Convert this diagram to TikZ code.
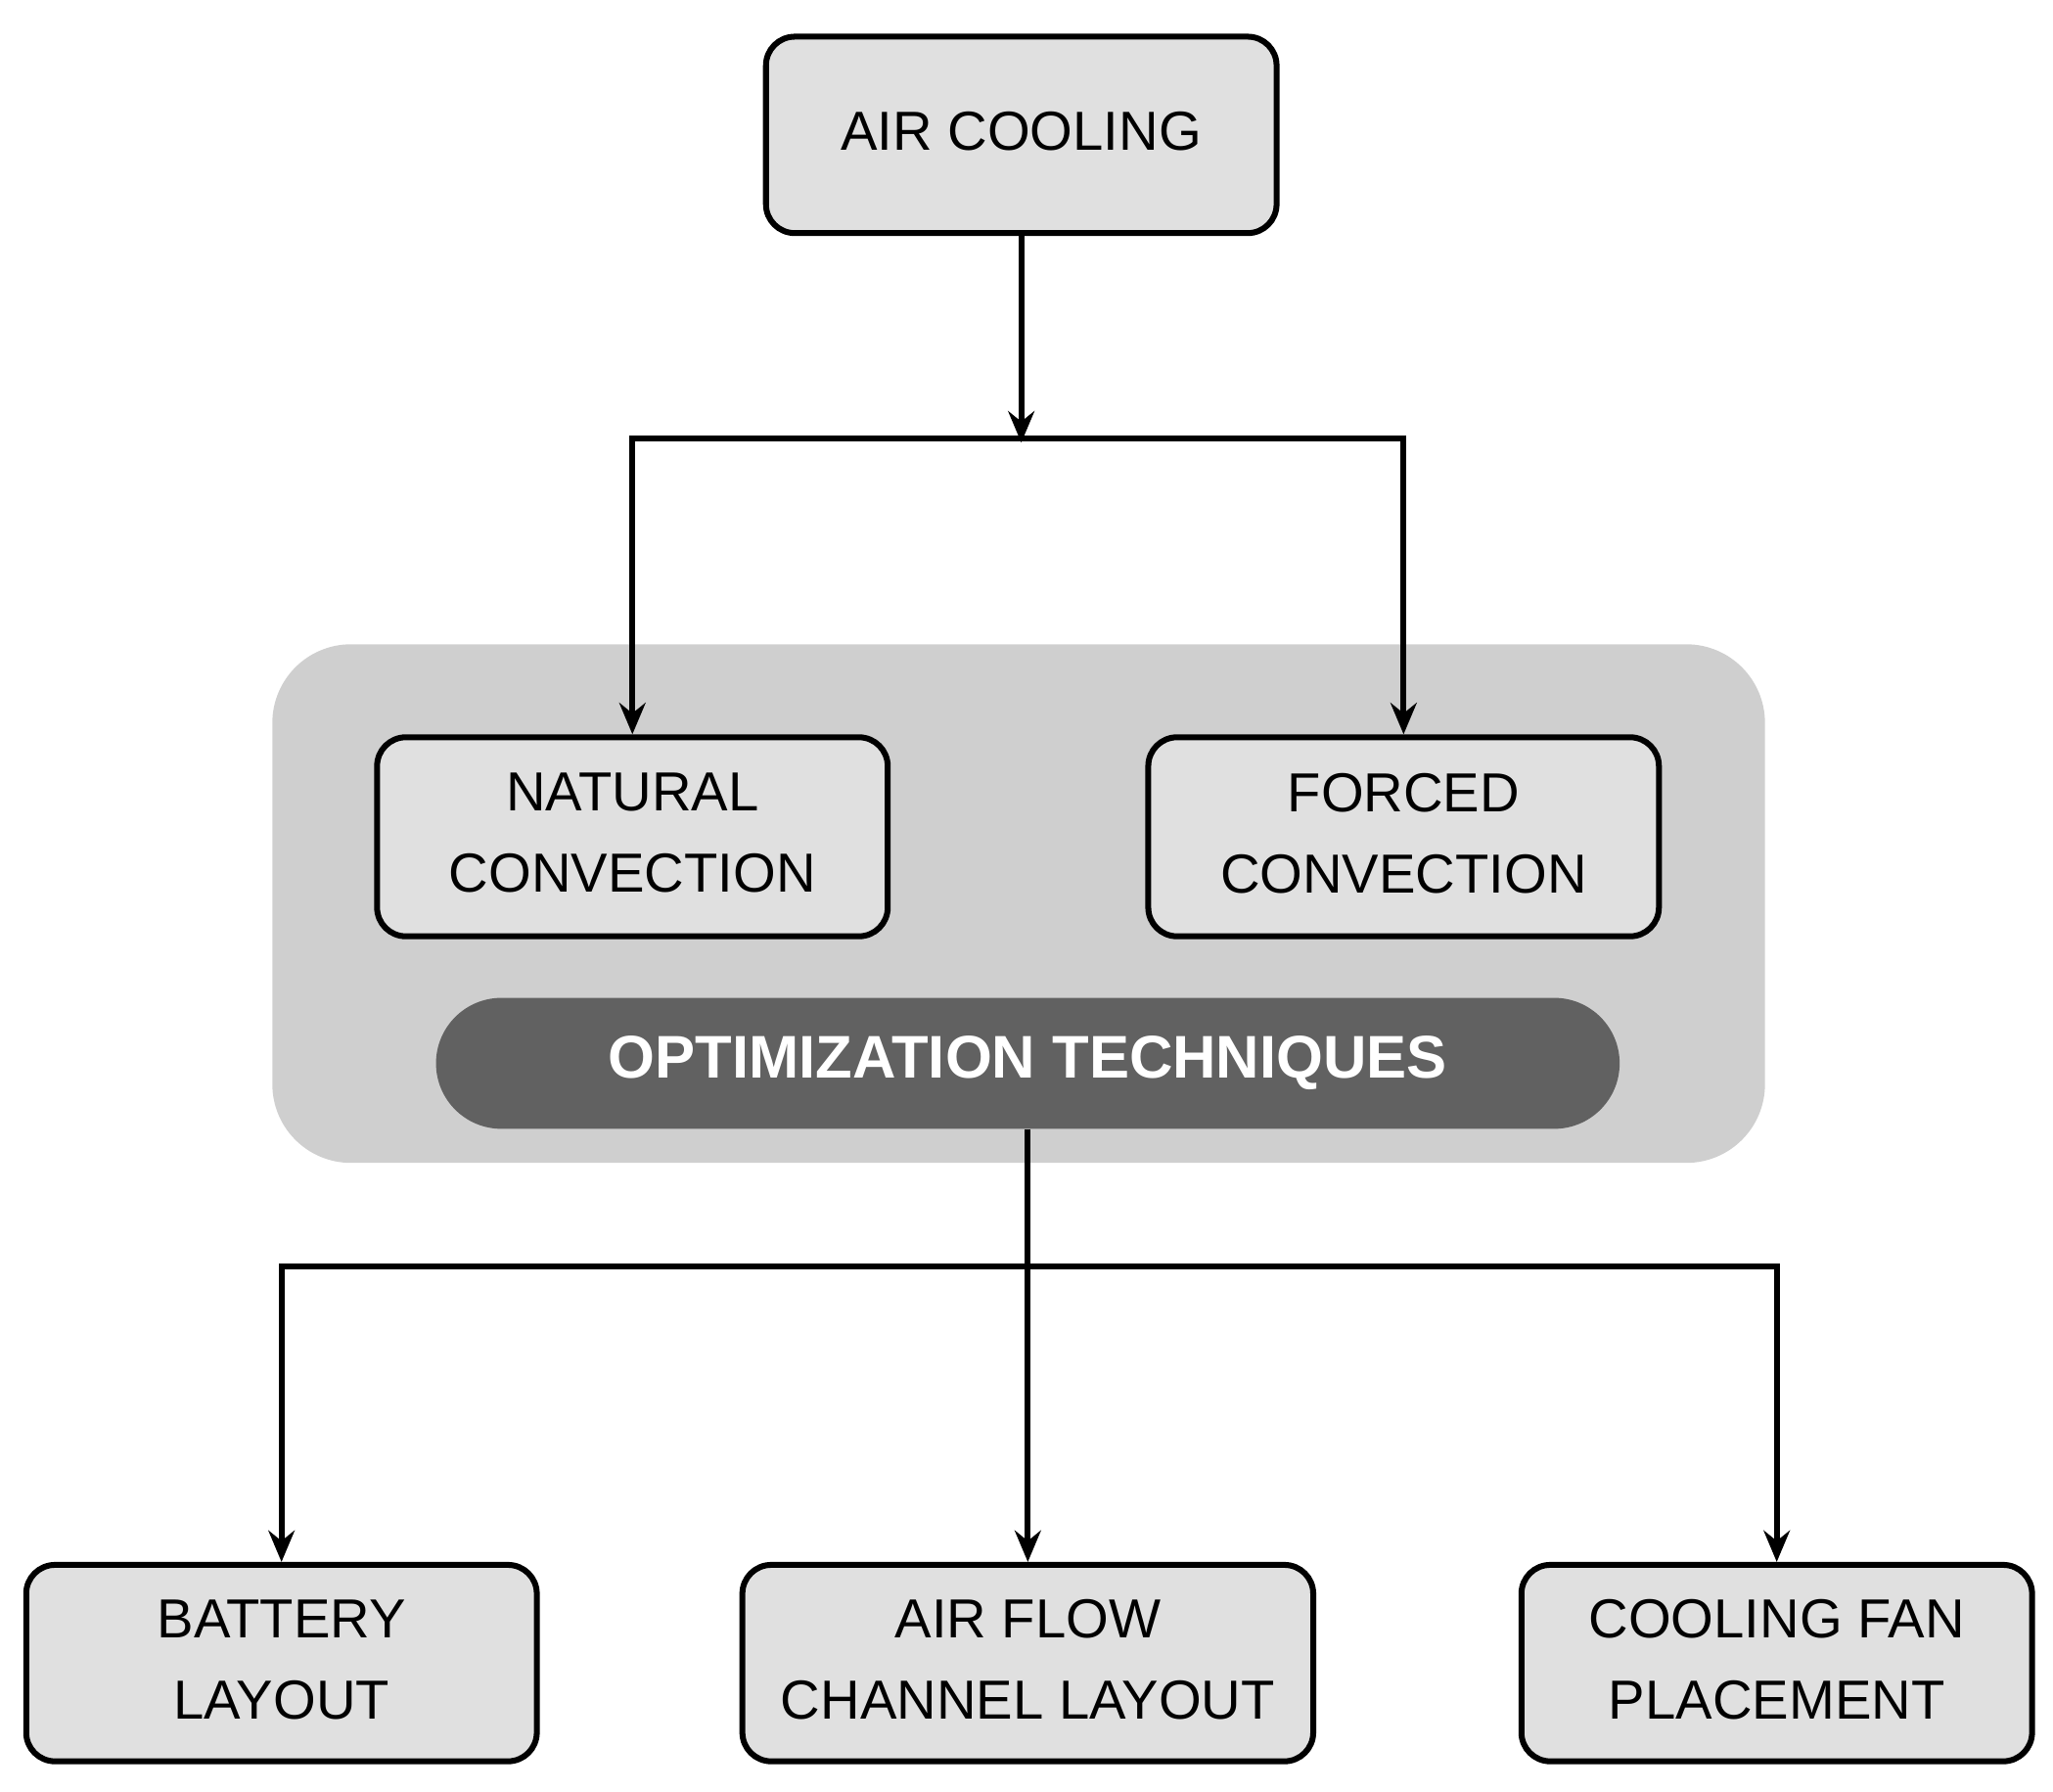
\documentclass[tikz,border=0pt]{standalone}
\usepackage{fontspec}
\setmainfont{Liberation Sans}
\usetikzlibrary{arrows.meta}
\begin{document}
\begin{tikzpicture}[x=1pt,y=-1pt,
  box/.style={draw=black,line width=4.5pt,fill=black!12,rounded corners=22pt,align=center,font=\fontsize{42}{62}\selectfont},
  arr/.style={line width=4.5pt,-{Stealth[length=24pt,width=20pt,inset=8pt]}},
  ln/.style={line width=4.5pt,line cap=rect}]
\useasboundingbox (0,0) rectangle (1568,1368);
\fill[black!19,rounded corners=60pt] (208,492) rectangle (1348,888);
\node[box,minimum width=390pt,minimum height=150pt] (air) at (780,103) {\raisebox{6pt}{AIR COOLING}};
\node[box,minimum width=390pt,minimum height=152pt] (nat) at (483,639) {\raisebox{6pt}{NATURAL}\\\raisebox{6pt}{CONVECTION}};
\node[box,minimum width=390pt,minimum height=152pt] (for) at (1072,639) {\raisebox{6pt}{FORCED}\\\raisebox{6pt}{CONVECTION}};
\node[fill=black!62,rounded corners=50pt,minimum width=904pt,minimum height=100pt,text=white,font=\fontsize{46}{50}\selectfont\bfseries] (opt) at (785,812) {OPTIMIZATION TECHNIQUES};
\node[box,minimum width=390pt,minimum height=150pt] (bat) at (215,1270) {\raisebox{6pt}{BATTERY}\\\raisebox{6pt}{LAYOUT}};
\node[box,minimum width=436pt,minimum height=150pt] (afc) at (785,1270) {\raisebox{6pt}{AIR FLOW}\\\raisebox{6pt}{CHANNEL LAYOUT}};
\node[box,minimum width=390pt,minimum height=150pt] (fan) at (1357,1270) {\raisebox{6pt}{COOLING FAN}\\\raisebox{6pt}{PLACEMENT}};
\coordinate (j1) at (780,335);
\coordinate (j2) at (785,967);
\draw[arr] (air.south) -- ([yshift=-3pt]j1);
\draw[ln] (nat.north |- j1) -- (for.north |- j1);
\draw[arr] (nat.north |- j1) -- (nat.north);
\draw[arr] (for.north |- j1) -- (for.north);
\draw[ln] (bat.north |- j2) -- (fan.north |- j2);
\draw[arr] (opt.south) -- (afc.north);
\draw[arr] (bat.north |- j2) -- (bat.north);
\draw[arr] (fan.north |- j2) -- (fan.north);
\end{tikzpicture}
\end{document}
